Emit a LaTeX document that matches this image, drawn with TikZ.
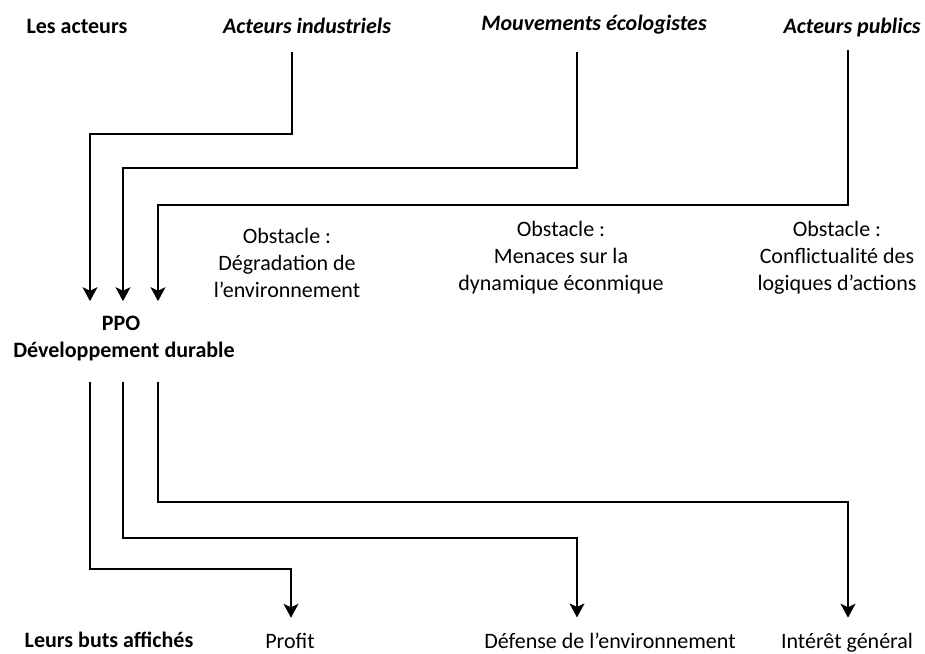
\documentclass[tikz,border=0pt]{standalone}
\usepackage{fontspec}
\setmainfont{Carlito}
\usetikzlibrary{arrows.meta}
\tikzset{
  fleche/.style={-{Stealth[length=7pt,width=7.5pt,inset=1.8pt]}, line width=0.6pt},
  txt/.style={font=\fontsize{11}{13.5}\selectfont, anchor=base, align=center},
  titre/.style={txt, font=\fontsize{11}{13.5}\selectfont\bfseries},
  acteur/.style={txt, font=\fontsize{11}{13.5}\selectfont\bfseries\itshape},
}
\begin{document}
\begin{tikzpicture}[x=0.5pt, y=-0.5pt]
\useasboundingbox (0,0) rectangle (925,653);
\node[titre] (les) at (77,33) {Les acteurs};
\node[acteur] (ind) at (307,33) {Acteurs industriels};
\node[acteur] (eco) at (594,31) {Mouvements écologistes};
\node[acteur] (pub) at (852,33) {Acteurs publics};
\node[txt] (obs1) at (287,297) {Obstacle :\\Dégradation de\\l’environnement};
\node[txt] (obs2) at (561,290) {Obstacle :\\Menaces sur la\\dynamique éconmique};
\node[txt] (obs3) at (837,290) {Obstacle :\\Conflictualité des\\logiques d’actions};
\node[titre, inner sep=7pt] (ppo) at (121,330) {PPO};
\node[titre] (dd) at (124,357) {Développement durable};
\node[titre] (buts) at (109,647) {Leurs buts affichés};
\node[txt] (profit) at (290,648) {Profit};
\node[txt] (def) at (610,648) {Défense de l’environnement};
\node[txt] (int) at (847,648) {Intérêt général};
\coordinate (i0) at (292,52);
\coordinate (e0) at (577,52);
\coordinate (p0) at (848,50);
\coordinate (c1) at (90,134);
\coordinate (c2) at (123,168);
\coordinate (c3) at (158,205);
\coordinate (d1) at (291,569);
\coordinate (d2) at (577,538);
\coordinate (d3) at (848,502);
\draw[fleche] (i0) |- (c1) -- (c1 |- ppo.north);
\draw[fleche] (e0) |- (c2) -- (c2 |- ppo.north);
\draw[fleche] (p0) |- (c3) -- (c3 |- ppo.north);
\draw[fleche, shorten <=7pt, shorten >=4pt] (c1 |- dd.south) |- (d1) -- (d1 |- profit.north);
\draw[fleche, shorten <=7pt, shorten >=4pt] (c2 |- dd.south) |- (d2) -- (d2 |- def.north);
\draw[fleche, shorten <=7pt, shorten >=4pt] (c3 |- dd.south) |- (d3) -- (d3 |- int.north);
\end{tikzpicture}
\end{document}
